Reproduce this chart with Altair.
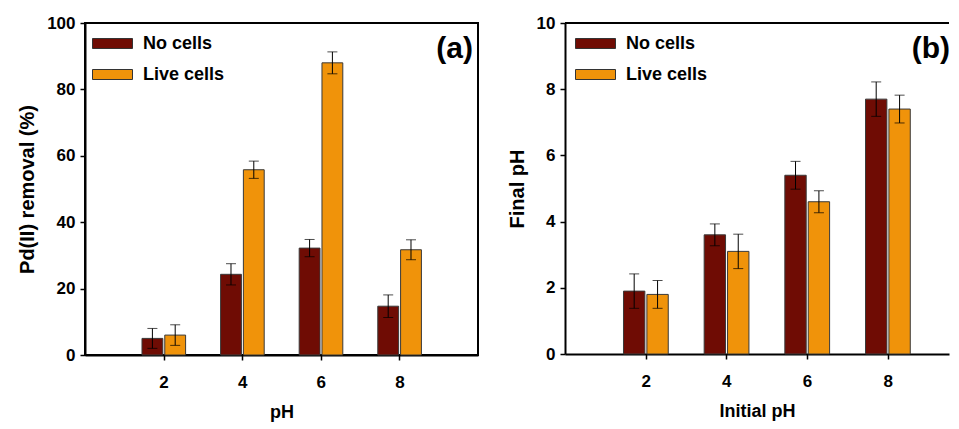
import altair as alt
import pandas as pd

# ---- data ----
ph = [2, 4, 6, 8]
series = ["No cells", "Live cells"]
colors = ["#6F0C04", "#F0930A"]

removal_no = [5.0, 24.3, 32.2, 14.7]
removal_no_err = [3.0, 3.2, 2.6, 3.4]
removal_live = [6.0, 55.8, 88.0, 31.7]
removal_live_err = [3.1, 2.6, 3.3, 3.0]

final_no = [1.9, 3.6, 5.4, 7.7]
final_no_err = [0.52, 0.33, 0.42, 0.52]
final_live = [1.8, 3.1, 4.6, 7.4]
final_live_err = [0.42, 0.52, 0.33, 0.42]

FONT = "Liberation Sans"


def long_df(no, no_err, live, live_err):
    rows = []
    for i, p in enumerate(ph):
        rows.append({"ph": p, "series": "No cells", "value": no[i], "err": no_err[i]})
        rows.append({"ph": p, "series": "Live cells", "value": live[i], "err": live_err[i]})
    return pd.DataFrame(rows)


def panel(df, xtitle, ytitle, ymax, ystep, tag, w, h, xmax, boxed, legx):
    base = alt.Chart(df).transform_calculate(
        x1="datum.ph + (datum.series == 'No cells' ? -0.55 : 0.03)",
        x2="datum.ph + (datum.series == 'No cells' ? -0.02 : 0.56)",
        xc="datum.ph + (datum.series == 'No cells' ? -0.285 : 0.295)",
        lo="datum.value - datum.err",
        hi="datum.value + datum.err",
    )
    xscale = alt.Scale(domain=[0, xmax], nice=False, zero=False)
    yscale = alt.Scale(domain=[0, ymax], nice=False)
    bars = base.mark_bar(stroke="#3a3a3a", strokeWidth=1, opacity=1).encode(
        x=alt.X("x1:Q", scale=xscale, title=xtitle,
                axis=alt.Axis(values=ph, format="d")),
        x2="x2:Q",
        y=alt.Y("value:Q", scale=yscale, title=ytitle,
                axis=alt.Axis(values=list(range(0, ymax + 1, ystep)), format="d")),
        y2=alt.datum(0),
        color=alt.Color(
            "series:N",
            scale=alt.Scale(domain=series, range=colors),
            legend=alt.Legend(
                title=None, orient="none", legendX=legx, legendY=10,
                symbolType="M-2,-0.5H2V0.5H-2Z", symbolSize=400,
                symbolStrokeColor="#333333", symbolStrokeWidth=1, symbolOpacity=1,
                labelFont=FONT, labelFontSize=18, labelFontWeight="bold",
                labelColor="black", labelOffset=20, rowPadding=11, padding=0,
            ),
        ),
    )
    rules = base.mark_rule(color="black", strokeWidth=1).encode(
        x="xc:Q", y="lo:Q", y2="hi:Q")
    cap_hi = base.mark_tick(color="black", thickness=1, size=10, orient="horizontal").encode(
        x="xc:Q", y="hi:Q")
    cap_lo = base.mark_tick(color="black", thickness=1, size=10, orient="horizontal").encode(
        x="xc:Q", y="lo:Q")
    label = alt.Chart(pd.DataFrame({"t": [tag]})).mark_text(
        font=FONT, fontSize=30, fontWeight="bold", color="black",
        align="right", baseline="middle", clip=True,
    ).encode(x=alt.value(w - 5 if boxed else w + 1), y=alt.value(26), text="t:N")
    layers = [bars, rules, cap_hi, cap_lo, label]
    if not boxed:
        top = alt.Chart(pd.DataFrame({"t": [tag]})).mark_rule(
            color="black", strokeWidth=2).encode(y=alt.datum(ymax))
        layers.append(top)
    ch = alt.layer(*layers).properties(width=w, height=h)
    if boxed:
        ch = ch.properties(view=alt.ViewBackground(stroke="black", strokeWidth=2))
    else:
        ch = ch.properties(view=alt.ViewBackground(strokeWidth=0))
    return ch


df_a = long_df(removal_no, removal_no_err, removal_live, removal_live_err)
df_b = long_df(final_no, final_no_err, final_live, final_live_err)

pa = panel(df_a, "pH", "Pd(II) removal (%)", 100, 20, "(a)", 393, 332, 10, True, 17)
pb = panel(df_b, "Initial pH", "Final pH", 10, 2, "(b)", 384, 331, 9.52, False, 20)

chart = alt.hconcat(pa, pb, spacing=28).resolve_scale(
    color="independent"
).properties(
    padding={"left": 8, "top": 5, "right": 0, "bottom": 0}
).configure_axis(
    grid=False, domainColor="black", domainWidth=2,
    tickColor="black", tickWidth=1.5, tickSize=5,
    labelFont=FONT, labelFontSize=17, labelFontWeight="bold", labelColor="black",
    titleFont=FONT, titleFontWeight="bold", titleColor="black",
).configure_axisX(
    titleFontSize=18, labelPadding=14, titlePadding=13,
).configure_axisY(
    titleFontSize=20, labelPadding=5, titlePadding=9,
)

chart.save("out.html", embed_options={"renderer": "svg", "actions": False})
